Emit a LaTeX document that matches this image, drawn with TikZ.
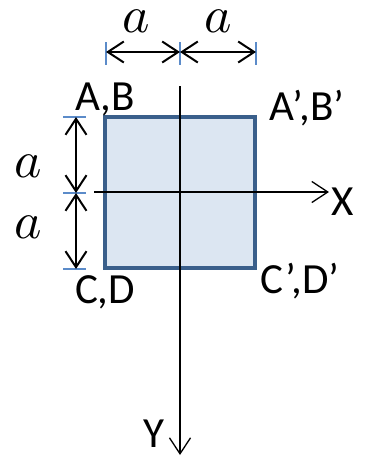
\documentclass[tikz,border=0pt]{standalone}
\usepackage{fontspec}
\usepackage{unicode-math}
\setmainfont{Carlito}
\setmathfont{Latin Modern Math}
\usetikzlibrary{arrows.meta,positioning}
\definecolor{platefill}{HTML}{DCE6F2}
\definecolor{plateline}{HTML}{3A5F8B}
\definecolor{tickblue}{HTML}{5B8BC9}
\tikzset{
  plate/.style={draw=plateline, line width=4.5pt, fill=platefill, inner sep=0pt},
  axisarrow/.style={-{Straight Barb[length=16pt, width=21pt]}, line width=1.3pt, draw=black},
  dimarrow/.style={{Straight Barb[length=16pt, width=21pt]}-{Straight Barb[length=16pt, width=21pt]}, line width=2pt, draw=black},
  tickline/.style={draw=tickblue, line width=1.3pt},
  cornerlabel/.style={anchor=base, inner sep=0pt, font=\fontsize{43}{48}\selectfont},
  axislabel/.style={anchor=base, inner sep=0pt, font=\fontsize{43}{48}\selectfont},
  dimlabel/.style={anchor=base, inner sep=0pt, font=\fontsize{52}{56}\selectfont}
}

\begin{document}
\begin{tikzpicture}[x=1pt, y=-1pt]
  \useasboundingbox (0,0) rectangle (371,461);

  \node[plate, minimum width=150pt, minimum height=151pt] (plate) at (180,192.5) {};

  % axes
  \coordinate (xstart) at (94,192);
  \coordinate (xend) at (329,192);
  \coordinate (ystart) at (180,86);
  \coordinate (yend) at (180,455);
  \draw[axisarrow] (xstart) -- (xend);
  \draw[axisarrow] (ystart) -- (yend);
  \node[axislabel] (xlab) at (343,215) {X};
  \node[axislabel] (ylab) at (154,447) {Y};

  % corner labels
  \node[cornerlabel] (ab) at (105,110) {A,B};
  \node[cornerlabel] (abp) at (307,120) {A',B'};
  \node[cornerlabel] (cd) at (105,303) {C,D};
  \node[cornerlabel] (cdp) at (300,293) {C',D'};

  % dimensions on top
  \coordinate (t1) at (106,52);
  \coordinate (t2) at (180,52);
  \coordinate (t3) at (256,52);
  \foreach \p in {t1,t2,t3}
    \draw[tickline] (\p) ++(0,-10) -- ++(0,23);
  \draw[dimarrow] (t1) -- (t2);
  \draw[dimarrow] (t2) -- (t3);
  \node[dimlabel] (atop1) at (136,32) {$a$};
  \node[dimlabel] (atop2) at (218,32) {$a$};

  % dimensions on the left
  \coordinate (l1) at (76,117);
  \coordinate (l2) at (76,193);
  \coordinate (l3) at (76,269);
  \foreach \p in {l1,l2,l3}
    \draw[tickline] (\p) ++(-13,0) -- ++(23,0);
  \draw[dimarrow] (l1) -- (l2);
  \draw[dimarrow] (l2) -- (l3);
  \node[dimlabel] (aleft1) at (28,177) {$a$};
  \node[dimlabel] (aleft2) at (28,238) {$a$};
\end{tikzpicture}
\end{document}
